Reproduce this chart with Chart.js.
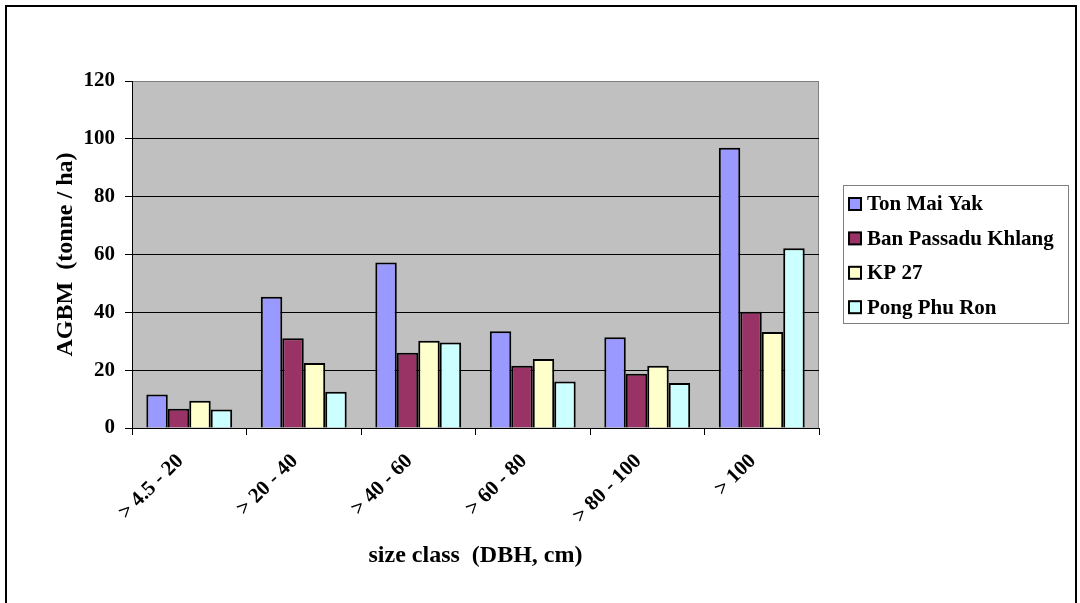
<!DOCTYPE html>
<html>
<head>
<meta charset="utf-8">
<script src="https://cdn.jsdelivr.net/npm/chart.js@4/dist/chart.umd.min.js"></script>
<style>
  html, body { margin: 0; padding: 0; background: #fff; overflow: hidden; }
  #frame { position: absolute; left: 5px; top: 5px; width: 1068px; height: 700px; border: 2px solid #000; }
  #graficoAGBM { position: absolute; left: 0; top: 0; }
</style>
</head>
<body>
<div id="frame"></div>
<canvas id="graficoAGBM" width="1080" height="603"></canvas>
<script>
const classes = ['> 4.5 - 20', '> 20 - 40', '> 40 - 60', '> 60 - 80', '> 80 - 100', '> 100'];
const tonMaiYak = [11.6, 45.4, 57.2, 33.5, 31.4, 96.9];
const banPassadu = [6.7, 31.0, 26.0, 21.5, 18.8, 40.2];
const kp27 = [9.4, 22.5, 30.2, 23.9, 21.5, 33.2];
const pongPhuRon = [6.4, 12.5, 29.6, 16.1, 15.6, 62.2];
const yTicks = [0, 20, 40, 60, 80, 100, 120];

const fonte = 'Liberation Serif, Times New Roman, serif';

// fundo cinza da area do grafico
const fundoPlot = {
    id: 'fundoPlot',
    beforeDraw(chart) {
        const {ctx, chartArea: a} = chart;
        ctx.save();
        ctx.fillStyle = '#c0c0c0';
        ctx.fillRect(a.left, a.top, a.right - a.left, a.bottom - a.top);
        ctx.strokeStyle = '#808080';
        ctx.lineWidth = 1;
        ctx.beginPath();
        ctx.moveTo(a.left, a.top + 0.5);
        ctx.lineTo(a.right - 0.5, a.top + 0.5);
        ctx.lineTo(a.right - 0.5, a.bottom);
        ctx.stroke();
        ctx.restore();
    }
};

// legenda com caixa, a direita
const legendaCaixa = {
    id: 'legendaCaixa',
    afterDraw(chart) {
        const ctx = chart.ctx;
        ctx.save();
        ctx.strokeStyle = '#808080';
        ctx.lineWidth = 1;
        ctx.strokeRect(843.5, 185.5, 225, 138);
        ctx.font = 'bold 21px ' + fonte;
        ctx.textBaseline = 'middle';
        chart.data.datasets.forEach((ds, i) => {
            const y = 204 + i * 34.4;
            ctx.fillStyle = ds.backgroundColor;
            ctx.fillRect(849, y - 6, 12, 12);
            ctx.strokeStyle = '#000';
            ctx.lineWidth = 2;
            ctx.strokeRect(849, y - 6, 12, 12);
            ctx.fillStyle = '#000';
            ctx.fillText(ds.label, 867, y + 1);
        });
        ctx.restore();
    }
};

const ctx = document.getElementById('graficoAGBM');

new Chart(ctx, {
    type: 'bar',
    data: {
        labels: classes,
        datasets: [
            { label: 'Ton Mai Yak', data: tonMaiYak, backgroundColor: '#9999ff' },
            { label: 'Ban Passadu Khlang', data: banPassadu, backgroundColor: '#993366' },
            { label: 'KP 27', data: kp27, backgroundColor: '#ffffcc' },
            { label: 'Pong Phu Ron', data: pongPhuRon, backgroundColor: '#ccffff' }
        ].map(d => Object.assign(d, {
            borderColor: '#000',
            borderWidth: 2,
            barPercentage: 1,
            categoryPercentage: 0.75
        }))
    },
    options: {
        responsive: false,
        animation: false,
        layout: { padding: { left: 0, top: 81, right: 261, bottom: 0 } },
        plugins: {
            legend: { display: false },
            tooltip: { enabled: false }
        },
        scales: {
            x: {
                grid: { drawOnChartArea: false, color: '#000', tickLength: 7 },
                border: { color: '#000', width: 1 },
                ticks: {
                    color: '#000',
                    font: { family: fonte, size: 21, weight: 'bold' },
                    minRotation: 45,
                    maxRotation: 45,
                    padding: 14,
                    labelOffset: -9
                },
                title: {
                    display: true,
                    text: 'size class  (DBH, cm)',
                    color: '#000',
                    font: { family: fonte, size: 24, weight: 'bold' },
                    padding: { top: 0, bottom: 33 }
                },
                afterFit(scale) { scale.height = 175; }
            },
            y: {
                min: 0,
                max: 120,
                afterBuildTicks(scale) { scale.ticks = yTicks.map(v => ({ value: v })); },
                grid: {
                    color: c => c.tick && c.tick.value === 120 ? '#808080' : '#000',
                    tickColor: '#000',
                    tickLength: 7
                },
                border: { color: '#000', width: 1 },
                ticks: {
                    color: '#000',
                    font: { family: fonte, size: 21, weight: 'bold' },
                    padding: 10
                },
                title: {
                    display: true,
                    text: 'AGBM  (tonne / ha)',
                    color: '#000',
                    font: { family: fonte, size: 24, weight: 'bold' },
                    padding: { top: 51, bottom: 0 }
                },
                afterFit(scale) { scale.width = 132; }
            }
        }
    },
    plugins: [fundoPlot, legendaCaixa]
});
</script>
</body>
</html>
